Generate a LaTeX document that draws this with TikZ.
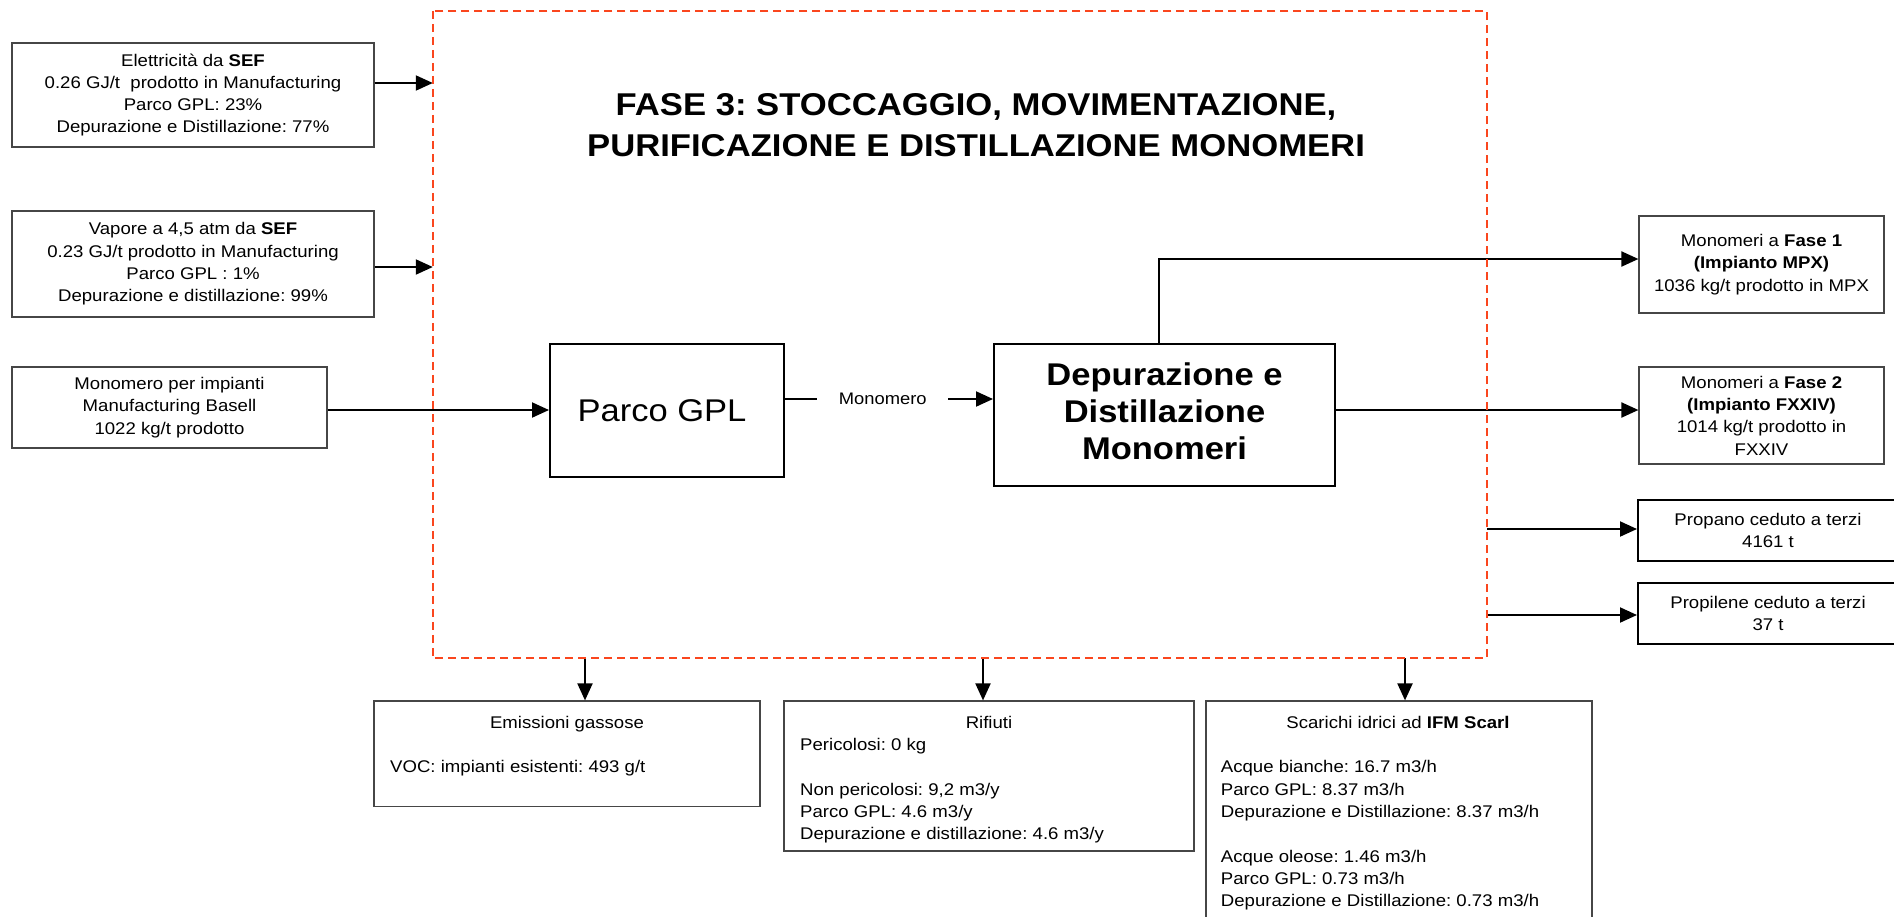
\documentclass[tikz,border=0pt]{standalone}
\usepackage{fontspec}
\setmainfont{Liberation Sans}[FakeStretch=1.1]
\usetikzlibrary{arrows.meta}
\definecolor{dashred}{RGB}{250,70,30}
\definecolor{boxgray}{RGB}{70,70,70}
\frenchspacing
\tikzset{
  sm/.style={font=\fontsize{16.9}{22.3}\selectfont},
  inbox/.style={draw=boxgray, line width=1.2pt, align=center, inner sep=0pt, sm},
  mainbox/.style={draw=black, line width=2pt, align=center, inner sep=0pt},
  thickbox/.style={draw=black, line width=2pt, align=center, inner sep=0pt, sm},
  fasebox/.style={draw=dashred, line width=1.8pt, dash pattern=on 8pt off 5pt},
  arr/.style={line width=2pt, -{Triangle[length=17pt,width=15pt]}},
  txt/.style={sm, inner sep=0pt, anchor=base west},
  ttl/.style={sm, inner sep=0pt, anchor=base},
  lbl/.style={fill=white, inner sep=0pt, minimum width=131pt, minimum height=14pt, font=\fontsize{16.7}{20}\selectfont},
}
\begin{document}
\begin{tikzpicture}[x=1pt,y=-1pt]
\useasboundingbox (0,0) rectangle (1894,916);
% phase frame (drawn later)
\node[minimum width=1054pt, minimum height=647pt, inner sep=0pt] (fase) at (960,334.5) {};
\node[font=\fontsize{31.5}{41}\selectfont\bfseries, align=center, inner sep=0pt] (title) at (976,125.6)
  {FASE 3: STOCCAGGIO, MOVIMENTAZIONE,\\PURIFICAZIONE E DISTILLAZIONE MONOMERI};

% inputs
\node[inbox, minimum width=362pt, minimum height=104pt] (b1) at (193,95)
  {Elettricità da \textbf{SEF}\\0.26 GJ/t\ \ prodotto in Manufacturing\\Parco GPL: 23\%\\Depurazione e Distillazione: 77\%};
\node[inbox, minimum width=362pt, minimum height=106pt] (b2) at (193,264)
  {Vapore a 4,5 atm da \textbf{SEF}\\0.23 GJ/t prodotto in Manufacturing\\Parco GPL : 1\%\\Depurazione e distillazione: 99\%};
\node[inbox, minimum width=315pt, minimum height=81pt] (b3) at (169.5,407.5)
  {Monomero per impianti\\Manufacturing Basell\\1022 kg/t prodotto};

% main process boxes
\node[mainbox, minimum width=234pt, minimum height=133pt, font=\fontsize{31.4}{37}\selectfont] (parco) at (667,410.5) {Parco GPL\rule{10pt}{0pt}};
\node[mainbox, minimum width=341pt, minimum height=142pt, text depth=8pt, font=\fontsize{31.4}{37}\selectfont\bfseries] (dep) at (1164.5,415)
  {Depurazione e\\Distillazione\\Monomeri};

% outputs
\node[inbox, minimum width=245pt, minimum height=97pt] (mpx) at (1761.5,264.5)
  {Monomeri a \textbf{Fase 1}\\\textbf{(Impianto MPX)}\\1036 kg/t prodotto in MPX};
\node[inbox, minimum width=245pt, minimum height=97pt] (fx) at (1761.5,415.5)
  {Monomeri a \textbf{Fase 2}\\\textbf{(Impianto FXXIV)}\\1014 kg/t prodotto in\\FXXIV};
\node[thickbox, minimum width=260pt, minimum height=61pt] (prop) at (1768,530.5)
  {Propano ceduto a terzi\\4161 t};
\node[thickbox, minimum width=260pt, minimum height=61pt] (propl) at (1768,613.5)
  {Propilene ceduto a terzi\\37 t};

% bottom boxes
\node[inbox, minimum width=386pt, minimum height=105.7pt] (em) at (567,753.85) {};
\node[ttl] (emt) at (567,728.3) {Emissioni gassose};
\node[txt] (em1) at (390,772.9) {VOC: impianti esistenti: 493 g/t};

\node[inbox, minimum width=410pt, minimum height=150pt] (rif) at (989,776) {};
\node[ttl] (rift) at (989,728.3) {Rifiuti};
\node[txt] (rif1) at (800,750.6) {Pericolosi: 0 kg};
\node[txt] (rif2) at (800,795.2) {Non pericolosi: 9,2 m3/y};
\node[txt] (rif3) at (800,817.5) {Parco GPL: 4.6 m3/y};
\node[txt] (rif4) at (800,839.8) {Depurazione e distillazione: 4.6 m3/y};

\node[inbox, minimum width=386pt, minimum height=221pt] (sca) at (1399,811.5) {};
\node[ttl] (scat) at (1398,728.3) {Scarichi idrici ad \textbf{IFM Scarl}};
\node[txt] (sca1) at (1220.7,772.9) {Acque bianche: 16.7 m3/h};
\node[txt] (sca2) at (1220.7,795.2) {Parco GPL: 8.37 m3/h};
\node[txt] (sca3) at (1220.7,817.5) {Depurazione e Distillazione: 8.37 m3/h};
\node[txt] (sca4) at (1220.7,862.1) {Acque oleose: 1.46 m3/h};
\node[txt] (sca5) at (1220.7,884.4) {Parco GPL: 0.73 m3/h};
\node[txt] (sca6) at (1220.7,906.7) {Depurazione e Distillazione: 0.73 m3/h};

% connectors
\draw[arr] (b1.east |- 0,83) -- (fase.west |- 0,83);
\draw[arr] (b2.east |- 0,267) -- (fase.west |- 0,267);
\draw[arr] (b3.east |- 0,410) -- (parco.west |- 0,410);
\draw[arr] (parco.east |- 0,399) -- node[lbl, pos=0.47] (mono) {Monomero} (dep.west |- 0,399);
\draw[arr] ([xshift=-5.5pt]dep.north) |- (mpx.west |- 0,259);
\draw[arr] (dep.east |- 0,410) -- (fx.west |- 0,410);
\draw[arr] (fase.east |- 0,529) -- (prop.west |- 0,529);
\draw[arr] (fase.east |- 0,615) -- (propl.west |- 0,615);
\draw[arr] (fase.south -| 585,0) -- (em.north -| 585,0);
\draw[arr] (fase.south -| 983,0) -- (rif.north -| 983,0);
\draw[arr] (fase.south -| 1405,0) -- (sca.north -| 1405,0);

\draw[fasebox] (fase.north west) rectangle (fase.south east);
\end{tikzpicture}
\end{document}
